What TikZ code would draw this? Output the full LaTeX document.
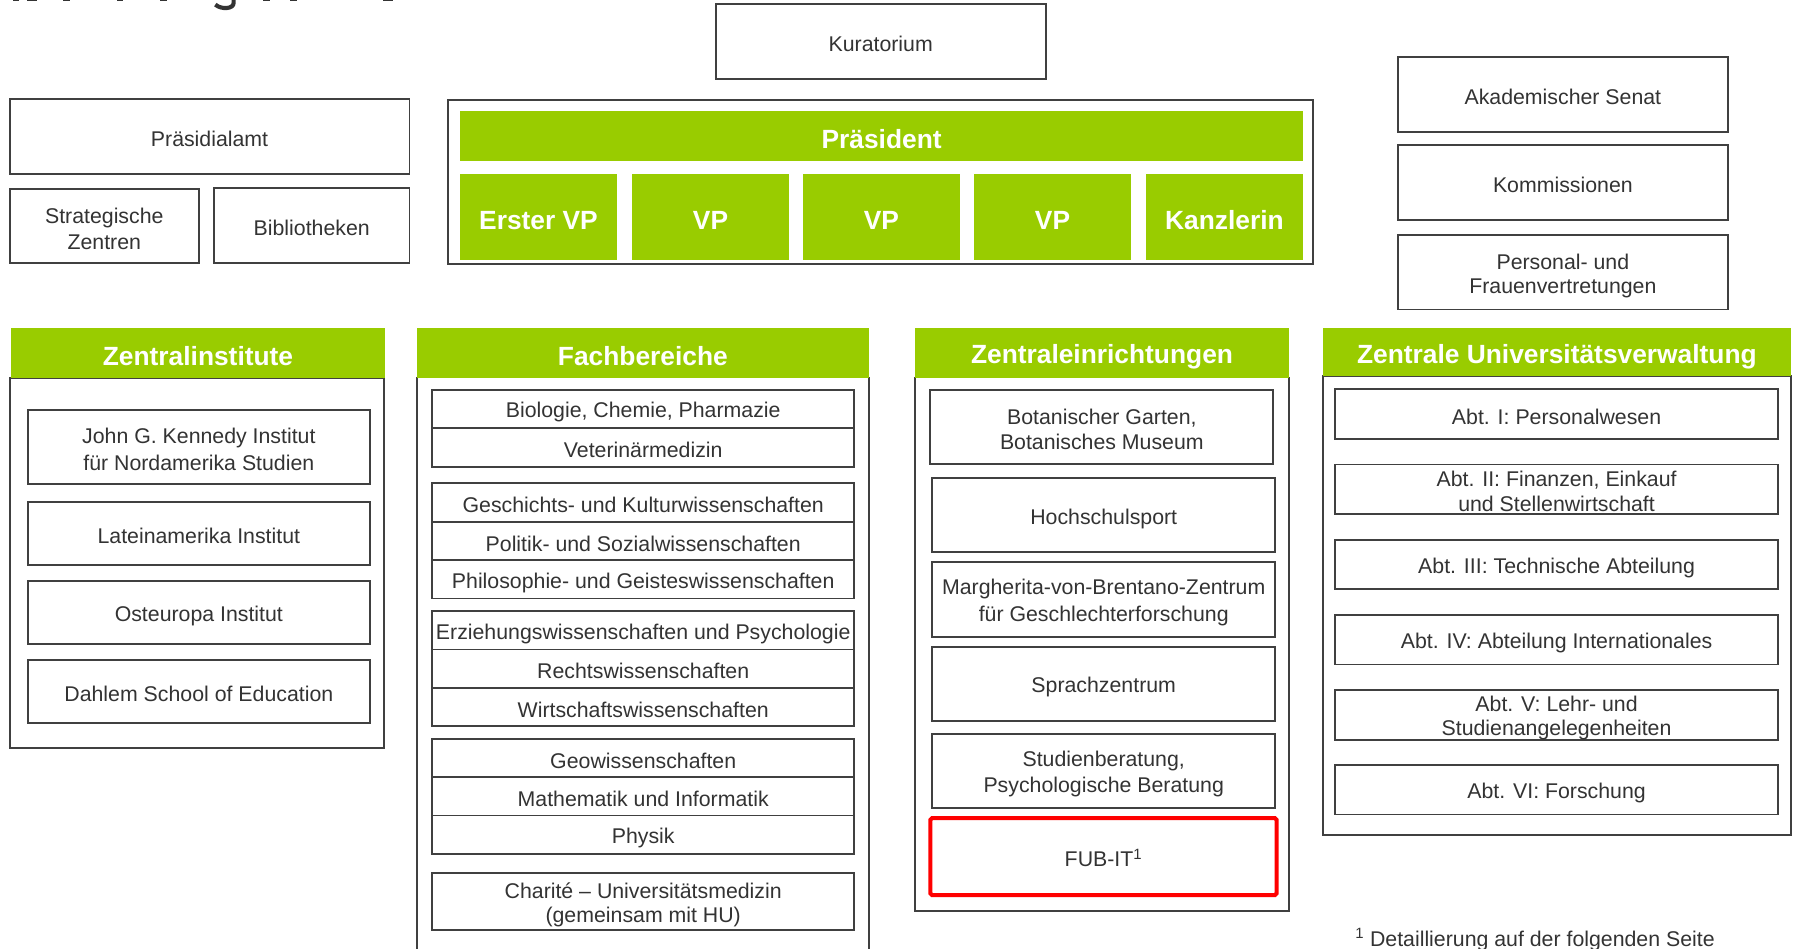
\documentclass[tikz,border=0pt]{standalone}
\usepackage{fontspec}
\usepackage{array}
\setmainfont{Liberation Sans}
\definecolor{fugreen}{HTML}{99CC00}
\definecolor{txt}{HTML}{333333}
\definecolor{bd}{HTML}{404040}
\definecolor{fured}{HTML}{FF0000}
\newcommand\ppstrut{\rule[-0.08em]{0pt}{1.117em}}
\newcommand\tx[1]{\renewcommand\arraystretch{0}\setlength\lineskip{0pt}\begin{tabular}{@{}>{\ppstrut}c@{}}#1\end{tabular}}
\newcommand\mybox[7]{\node[#1, minimum width={#4-#2}, minimum height={#5-#3}] (#6) at ({(#2+#4)/2},{(#3+#5)/2}) {\tx{#7}};}
\begin{document}
\begin{tikzpicture}[x=1pt,y=-1pt,
  wbox/.style={draw=bd, line width=1.6pt, fill=white, text=txt, inner sep=0pt, font=\fontsize{18.6}{21}\selectfont},
  gbox/.style={fill=fugreen, text=white, inner sep=0pt, font=\fontsize{23}{26}\selectfont\bfseries},
  secframe/.style={draw=bd, line width=1.6pt},
  redbox/.style={wbox, draw=fured, line width=3.5pt, rounded corners=1.5pt},
  sliver/.style={fill=txt, draw=none}]
\useasboundingbox (0,0) rectangle (1568,827.7);

% cropped title (only the bottoms of its letters are visible)
\foreach \a/\b in {11/17, 24/32, 55/61, 102/107, 140/146, 230/236, 253/259, 334/343}
  \fill[sliver] (\a,-1) rectangle (\b,1.3);
\draw[txt, line width=3.6pt] (204,-1) -- (204,2.5) .. controls (204,8) and (193,8.5) .. (188,4);

% top row
\mybox{wbox}{624.8}{3.8}{913}{69}{kur}{Kuratorium}
\mybox{wbox}{8.4}{86.4}{357.5}{152}{pamt}{Präsidialamt}
\mybox{wbox}{8.4}{165}{173.7}{229.9}{strat}{Strategische\\Zentren}
\mybox{wbox}{186.8}{163.9}{357.5}{229.3}{bib}{Bibliotheken}

\mybox{wbox}{391.2}{87.3}{1146.1}{230.8}{praesframe}{}
\mybox{gbox}{401.6}{96.9}{1137.8}{140.3}{praes}{Präsident}
\mybox{gbox}{401.6}{151.9}{538.7}{226.7}{vp1}{Erster VP}
\mybox{gbox}{551.8}{151.9}{688.8}{226.7}{vp2}{VP}
\mybox{gbox}{701}{151.9}{838.1}{226.7}{vp3}{VP}
\mybox{gbox}{850.4}{151.9}{987.4}{226.7}{vp4}{VP}
\mybox{gbox}{1000.5}{151.9}{1137.6}{226.7}{kanz}{Kanzlerin}

\mybox{wbox}{1220.3}{49.5}{1508.6}{115}{senat}{Akademischer Senat}
\mybox{wbox}{1220.3}{126.6}{1508.6}{192.1}{komm}{Kommissionen}
\mybox{wbox}{1220.3}{205.2}{1508.6}{270.2}{pers}{Personal- und\\Frauenvertretungen}

% Zentralinstitute
\mybox{wbox}{8.7}{329.7}{335.3}{652.8}{ziframe}{}
\mybox{gbox}{9.6}{286.7}{336.1}{329.7}{zihead}{Zentralinstitute}
\mybox{wbox}{24.2}{357.7}{323}{422.6}{jfk}{John G. Kennedy Institut\\für Nordamerika Studien}
\mybox{wbox}{24.2}{438}{323}{493.3}{lai}{Lateinamerika Institut}
\mybox{wbox}{24.2}{507.3}{323}{562.3}{oei}{Osteuropa Institut}
\mybox{wbox}{24.2}{576.2}{323}{631.5}{dse}{Dahlem School of Education}

% Fachbereiche
\draw[secframe] (363.8,845) -- (363.8,329.6) -- (758.7,329.6) -- (758.7,845);
\mybox{gbox}{363.8}{286.5}{758.7}{329.6}{fbhead}{Fachbereiche}
\mybox{wbox}{377.5}{340.2}{745.6}{374}{fb1}{Biologie, Chemie, Pharmazie}
\mybox{wbox}{377.5}{374}{745.6}{407.8}{fb2}{Veterinärmedizin}
\mybox{wbox}{377.5}{422}{745.6}{455.5}{fb3}{Geschichts- und Kulturwissenschaften}
\mybox{wbox}{377.5}{455.5}{745.6}{489}{fb4}{Politik- und Sozialwissenschaften}
\mybox{wbox}{377.5}{489}{745.6}{522.5}{fb5}{Philosophie- und Geisteswissenschaften}
\mybox{wbox}{377.5}{533.5}{745.6}{567}{fb6}{Erziehungswissenschaften und Psychologie}
\mybox{wbox}{377.5}{567}{745.6}{600.5}{fb7}{Rechtswissenschaften}
\mybox{wbox}{377.5}{600.5}{745.6}{634}{fb8}{Wirtschaftswissenschaften}
\mybox{wbox}{377.5}{645}{745.6}{678.5}{fb9}{Geowissenschaften}
\mybox{wbox}{377.5}{678.5}{745.6}{712}{fb10}{Mathematik und Informatik}
\mybox{wbox}{377.5}{712}{745.6}{745.5}{fb11}{Physik}
\mybox{wbox}{377.5}{761.8}{745.6}{812.1}{charite}{Charité – Universitätsmedizin\\(gemeinsam mit HU)}

% Zentraleinrichtungen
\mybox{wbox}{798.8}{329.6}{1125.4}{795.1}{zeframe}{}
\mybox{gbox}{798.8}{286.5}{1125.4}{329.6}{zehead}{Zentraleinrichtungen}
\mybox{wbox}{812.2}{340.2}{1111.7}{405.3}{bgbm}{Botanischer Garten,\\Botanisches Museum}
\mybox{wbox}{814}{417.6}{1113.2}{482}{hsp}{Hochschulsport}
\mybox{wbox}{814}{490.7}{1113.2}{555.9}{mvbz}{Margherita-von-Brentano-Zentrum\\für Geschlechterforschung}
\mybox{wbox}{814}{564.5}{1113.2}{629.3}{spz}{Sprachzentrum}
\mybox{wbox}{814}{640.6}{1113.2}{705.3}{stb}{Studienberatung,\\Psychologische Beratung}
\mybox{redbox}{812.2}{714.3}{1114.6}{781.4}{fubit}{FUB-IT\textsuperscript{1}}

% Zentrale Universitaetsverwaltung
\mybox{wbox}{1154.8}{328.6}{1563.7}{729.1}{zuvframe}{}
\mybox{gbox}{1154.8}{286.5}{1563.7}{328.6}{zuvhead}{Zentrale Universitätsverwaltung}
\mybox{wbox}{1165.3}{339.9}{1552.6}{383.1}{abt1}{Abt. I: Personalwesen}
\mybox{wbox}{1165.3}{405.5}{1552.6}{448.4}{abt2}{Abt. II: Finanzen, Einkauf\\und Stellenwirtschaft}
\mybox{wbox}{1165.3}{471.2}{1552.6}{514.5}{abt3}{Abt. III: Technische Abteilung}
\mybox{wbox}{1165.3}{536.9}{1552.6}{580.1}{abt4}{Abt. IV: Abteilung Internationales}
\mybox{wbox}{1165.3}{602.5}{1552.6}{645.5}{abt5}{Abt. V: Lehr- und\\Studienangelegenheiten}
\mybox{wbox}{1165.3}{668.1}{1552.6}{711.1}{abt6}{Abt. VI: Forschung}

% footnote
\node[anchor=base west, inner sep=0pt, text=txt, font=\fontsize{18.6}{21}\selectfont] (fn) at (1183,826) {\textsuperscript{1} Detaillierung auf der folgenden Seite};
\end{tikzpicture}
\end{document}
